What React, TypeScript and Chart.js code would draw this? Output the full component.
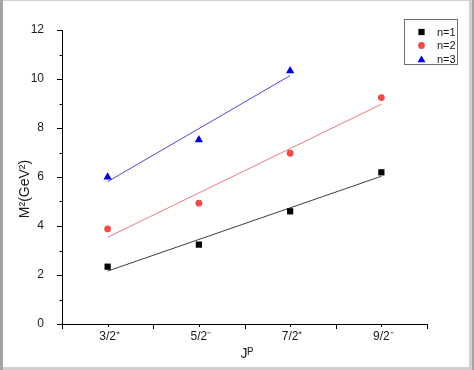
import React, { useEffect, useRef } from 'react';
import { Chart, registerables } from 'chart.js';

Chart.register(...registerables);

// ---- data ----
const categories = ['3/2⁺', '5/2⁻', '7/2⁺', '9/2⁻'];
const categoryPositions = [1, 2, 3, 4];
const seriesNames = ['n=1', 'n=2', 'n=3'];
const n1Values = [2.34, 3.24, 4.6, 6.19];
const n2Values = [3.88, 4.93, 6.97, 9.24];
const n3Values = [6.0, 7.52, 10.33];
const n1FitX = [1, 4];
const n1Fit = [2.16, 6.03];
const n2FitX = [1, 4];
const n2Fit = [3.54, 8.97];
const n3FitX = [1, 3];
const n3Fit = [5.81, 10.14];
const yMin = 0;
const yMax = 12;
const yLabelStep = 2;
const xTitle = 'Jᴾ';
const yTitle = 'M²(GeV²)';

const toPoints = (xs: number[], ys: number[]) => ys.map((y, i) => ({ x: xs[i], y }));

const FONT = "'Liberation Sans', Arial, sans-serif";
const COLORS = ['#000000', '#f04a4a', '#0000dc'];
const LINE_COLORS = ['#3c3c3c', '#f07a7a', '#4a4ad6'];
const STYLES = ['rect', 'circle', 'triangle'];

const isInt = (v: number) => Math.abs(v - Math.round(v)) < 1e-6;

function drawMarker(ctx: CanvasRenderingContext2D, style: string, x: number, y: number, r: number) {
  ctx.beginPath();
  if (style === 'rect') {
    const s = r * Math.SQRT1_2;
    ctx.rect(x - s, y - s, 2 * s, 2 * s);
  } else if (style === 'circle') {
    ctx.arc(x, y, r, 0, Math.PI * 2);
  } else {
    const h = r;
    ctx.moveTo(x, y - h);
    ctx.lineTo(x + Math.sin(Math.PI * 2 / 3) * h, y + h / 2);
    ctx.lineTo(x - Math.sin(Math.PI * 2 / 3) * h, y + h / 2);
    ctx.closePath();
  }
  ctx.fill();
}

const decorPlugin = {
  id: 'decor',
  beforeDraw(chart: any) {
    const { ctx, width, height } = chart;
    ctx.save();
    ctx.fillStyle = '#ffffff';
    ctx.fillRect(0, 0, width, height);
    ctx.fillStyle = '#cfcfcf';
    ctx.fillRect(0, 0, width, 1);
    ctx.fillRect(469, 0, 3, height);
    ctx.fillRect(0, 367, width, 3);
    ctx.fillStyle = '#a3a3a3';
    ctx.fillRect(0, 0, 3, height);
    ctx.fillRect(472, 0, 2, height);
    ctx.restore();
  },
  afterDraw(chart: any) {
    const { ctx, chartArea } = chart;
    const xs = chart.scales.x;
    const ys = chart.scales.y;
    ctx.save();
    // tick marks
    ctx.strokeStyle = '#000';
    ctx.lineWidth = 1;
    ctx.beginPath();
    for (let v = xs.min; v <= xs.max + 1e-6; v += 0.5) {
      const px = Math.round(xs.getPixelForValue(v)) + 0.5;
      const len = isInt(v) ? 3 : 5;
      ctx.moveTo(px, chartArea.bottom);
      ctx.lineTo(px, chartArea.bottom + len);
    }
    for (let v = ys.min; v <= ys.max + 1e-6; v += 1) {
      const py = Math.round(ys.getPixelForValue(v)) + 0.5;
      const len = isInt(v / yLabelStep) ? 5 : 2.5;
      ctx.moveTo(chartArea.left, py);
      ctx.lineTo(chartArea.left - len, py);
    }
    ctx.stroke();

    // x category labels
    ctx.fillStyle = '#1a1a1a';
    ctx.font = `12px ${FONT}`;
    ctx.textAlign = 'center';
    ctx.textBaseline = 'alphabetic';
    categories.forEach((c, i) => {
      const px = xs.getPixelForValue(categoryPositions[i]);
      ctx.fillText(c, px + 2, chartArea.bottom + 16);
    });

    // axis titles
    ctx.font = `14px ${FONT}`;
    ctx.textAlign = 'center';
    ctx.textBaseline = 'middle';
    ctx.fillText(xTitle, 247, 354);
    ctx.save();
    ctx.translate(25, 189);
    ctx.rotate(-Math.PI / 2);
    ctx.fillText(yTitle, 0, 0);
    ctx.restore();

    // legend
    const bx = 404.5, by = 19.5, bw = 53, bh = 45;
    ctx.strokeStyle = '#6e6e6e';
    ctx.strokeRect(bx, by, bw, bh);
    const rows = [32, 45.5, 59];
    ctx.font = `11px ${FONT}`;
    ctx.textAlign = 'left';
    seriesNames.forEach((name, i) => {
      ctx.fillStyle = COLORS[i];
      drawMarker(ctx, STYLES[i], 421.5, rows[i] + (i === 2 ? 1 : 0), i === 0 ? 4.4 : i === 1 ? 3.4 : 4.6);
      ctx.fillStyle = '#1a1a1a';
      ctx.fillText(name, 437, rows[i] + 0.5);
    });
    ctx.restore();
  },
};

export default function App() {
  const ref = useRef<HTMLCanvasElement | null>(null);

  useEffect(() => {
    const canvas = ref.current;
    if (!canvas) return;
    const fits = [
      toPoints(n1FitX, n1Fit),
      toPoints(n2FitX, n2Fit),
      toPoints(n3FitX, n3Fit),
    ];
    const points = [
      toPoints(categoryPositions, n1Values),
      toPoints(categoryPositions, n2Values),
      toPoints(categoryPositions, n3Values),
    ];
    const datasets: any[] = [];
    fits.forEach((f, i) => {
      datasets.push({
        type: 'line',
        label: seriesNames[i] + ' fit',
        data: f,
        borderColor: LINE_COLORS[i],
        borderWidth: 1,
        pointRadius: 0,
        showLine: true,
        fill: false,
        order: 2,
      });
    });
    points.forEach((p, i) => {
      datasets.push({
        type: 'scatter',
        label: seriesNames[i],
        data: p,
        pointStyle: STYLES[i],
        pointRadius: i === 0 ? 4.4 : i === 1 ? 3.4 : 4.8,
        backgroundColor: COLORS[i],
        borderColor: COLORS[i],
        borderWidth: 0,
        order: 1,
      });
    });

    const chart = new Chart(canvas, {
      type: 'scatter',
      data: { datasets },
      options: {
        animation: false,
        responsive: false,
        devicePixelRatio: 1,
        layout: { padding: { left: 0, top: 30, right: 47, bottom: 0 } },
        plugins: {
          legend: { display: false },
          tooltip: { enabled: false },
        },
        scales: {
          x: {
            type: 'linear',
            min: 0.5,
            max: 4.5,
            grid: { display: false },
            border: { display: true, color: '#000', width: 1 },
            afterFit: (s: any) => { s.height = 46; },
            ticks: { display: false, stepSize: 0.5 },
          },
          y: {
            type: 'linear',
            min: yMin,
            max: yMax,
            grid: { display: false },
            border: { display: true, color: '#000', width: 1 },
            afterFit: (s: any) => { s.width = 62; },
            ticks: {
              stepSize: 1,
              autoSkip: false,
              padding: 10,
              color: '#1a1a1a',
              font: { family: FONT, size: 12 },
              callback: (v: any) => (isInt(Number(v) / yLabelStep) ? String(v) : ''),
            },
          },
        },
      },
      plugins: [decorPlugin],
    } as any);
    return () => chart.destroy();
  }, []);

  return (
    <div style={{ position: 'absolute', left: 0, top: 0, width: 474, height: 370, background: '#fff' }}>
      <canvas ref={ref} width={474} height={370} style={{ display: 'block', width: 474, height: 370 }} />
    </div>
  );
}
